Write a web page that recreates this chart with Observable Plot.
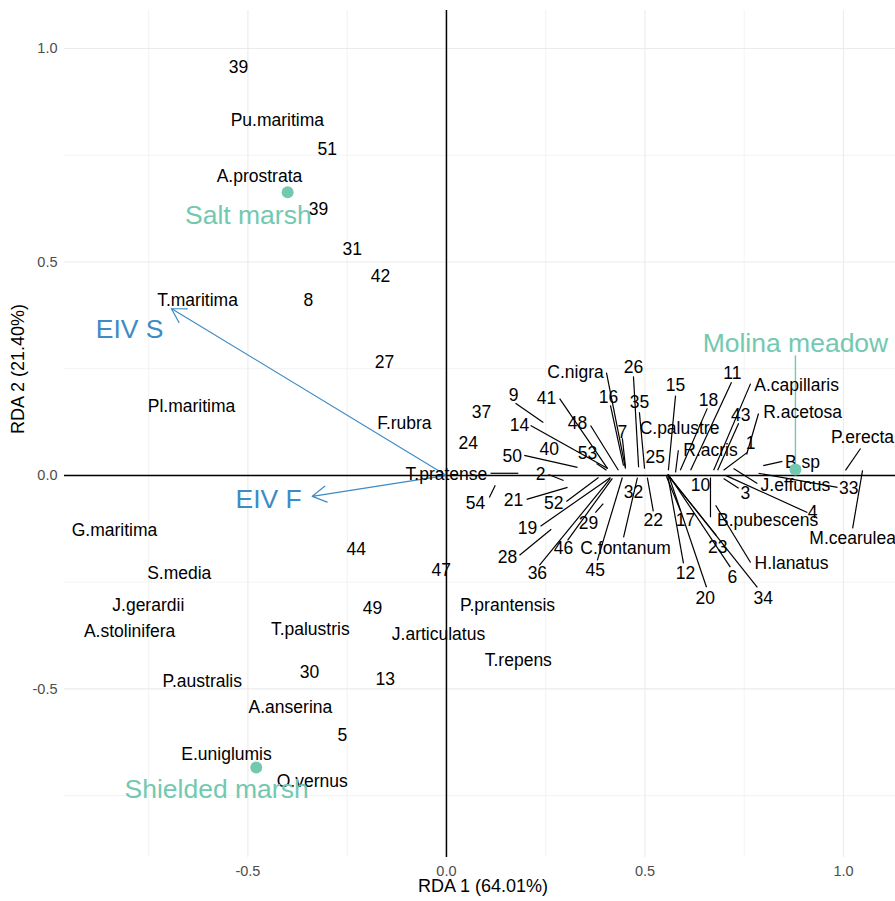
<!DOCTYPE html>
<html><head><meta charset="utf-8">
<script src="https://cdn.jsdelivr.net/npm/d3@7"></script>
<script src="https://cdn.jsdelivr.net/npm/@observablehq/plot@0.6"></script>
<style>
html,body{margin:0;padding:0;background:#fff;}
</style>
</head><body><div id="chart"></div>
<script>
// ---- axis ticks ----
const xMajor = [-0.5, 0, 0.5, 1.0];
const yMajor = [-0.5, 0, 0.5, 1.0];
const xMinor = [-0.75, -0.25, 0.25, 0.75];
const yMinor = [-0.75, -0.25, 0.25, 0.75];
const xTitle = "RDA 1 (64.01%)";
const yTitle = "RDA 2 (21.40%)";

// ---- labels without a connector ----
const plainNames = ["39","Pu.maritima","51","A.prostrata","39","31","42","T.maritima","8","27","Pl.maritima","F.rubra","37","24","G.maritima","44","S.media","47","J.gerardii","A.stolinifera","49","P.prantensis","T.palustris","J.articulatus","T.repens","30","13","P.australis","A.anserina","5","E.uniglumis","O.vernus","40","25","R.acris","10","32"];
const plainX = [-0.524,-0.426,-0.300,-0.471,-0.322,-0.237,-0.166,-0.627,-0.348,-0.156,-0.642,-0.106,0.088,0.055,-0.836,-0.227,-0.673,-0.013,-0.751,-0.798,-0.186,0.154,-0.343,-0.020,0.181,-0.345,-0.154,-0.615,-0.393,-0.262,-0.554,-0.338,0.259,0.526,0.665,0.640,0.471];
const plainY = [0.956,0.831,0.763,0.700,0.623,0.529,0.466,0.410,0.410,0.265,0.162,0.122,0.148,0.075,-0.129,-0.173,-0.230,-0.222,-0.304,-0.365,-0.311,-0.304,-0.361,-0.372,-0.433,-0.461,-0.478,-0.482,-0.543,-0.609,-0.653,-0.717,0.061,0.042,0.059,-0.023,-0.040];

// ---- repelled labels with connector (label, connector start, true point) ----
const repNames = ["T.pratense","C.nigra","26","9","41","16","35","48","7","14","50","53","2","15","18","11","A.capillaris","43","R.acetosa","C.palustre","1","B.sp","P.erecta","J.effucus","33","M.cearulea","3","4","B.pubescens","H.lanatus","34","22","17","12","20","23","6","C.fontanum","54","21","52","19","28","36","46","29","45"];
const repLabelX = [0.000,0.325,0.471,0.169,0.252,0.408,0.486,0.330,0.443,0.184,0.166,0.355,0.237,0.577,0.660,0.720,0.882,0.741,0.897,0.587,0.766,0.897,1.048,0.879,1.013,1.023,0.753,0.922,0.809,0.869,0.798,0.521,0.602,0.602,0.652,0.683,0.720,0.451,0.073,0.169,0.270,0.204,0.154,0.229,0.295,0.358,0.375];
const repLabelY = [0.002,0.241,0.253,0.187,0.180,0.183,0.171,0.122,0.101,0.117,0.044,0.052,0.002,0.211,0.176,0.239,0.211,0.141,0.148,0.110,0.075,0.030,0.089,-0.023,-0.030,-0.148,-0.042,-0.087,-0.105,-0.206,-0.288,-0.105,-0.105,-0.230,-0.288,-0.169,-0.239,-0.171,-0.066,-0.059,-0.066,-0.124,-0.192,-0.230,-0.171,-0.112,-0.222];
const repFromX = [0.111,0.403,0.471,0.174,0.285,0.413,0.486,0.363,0.443,0.212,0.196,0.378,0.257,0.577,0.657,0.718,0.766,0.736,0.786,0.584,0.758,0.846,1.043,0.783,0.985,1.023,0.736,0.909,0.665,0.766,0.783,0.521,0.589,0.597,0.655,0.680,0.715,0.446,0.108,0.202,0.302,0.237,0.184,0.234,0.305,0.375,0.380];
const repFromY = [0.005,0.241,0.232,0.169,0.180,0.164,0.148,0.117,0.087,0.117,0.047,0.028,0.002,0.187,0.157,0.218,0.215,0.122,0.145,0.059,0.054,0.033,0.063,-0.019,-0.028,-0.124,-0.030,-0.087,-0.098,-0.204,-0.262,-0.084,-0.082,-0.206,-0.262,-0.141,-0.215,-0.145,-0.052,-0.056,-0.061,-0.119,-0.187,-0.211,-0.152,-0.087,-0.199];
const repPointX = [0.181,0.451,0.484,0.244,0.406,0.446,0.499,0.433,0.451,0.406,0.330,0.403,0.295,0.559,0.589,0.615,0.673,0.683,0.756,0.577,0.698,0.798,1.005,0.723,0.786,1.048,0.698,0.703,0.665,0.678,0.557,0.506,0.554,0.557,0.559,0.557,0.559,0.481,0.123,0.305,0.383,0.413,0.264,0.413,0.418,0.395,0.443];
const repPointY = [0.005,0.016,0.019,0.124,0.016,0.023,0.016,0.012,0.019,0.016,0.019,0.012,-0.012,0.012,0.012,0.012,0.012,0.012,0.049,0.007,0.012,0.023,0.012,0.016,0.005,0.012,-0.007,0.000,-0.005,-0.070,0.002,-0.005,-0.002,0.002,0.002,0.002,0.002,-0.005,-0.023,-0.028,-0.005,-0.005,-0.126,-0.007,-0.007,-0.066,-0.005];

// ---- group centroids ----
const groupNames = ["Salt marsh","Shielded marsh","Molina meadow"];
const groupX = [-0.400,-0.479,0.879];
const groupY = [0.663,-0.684,0.014];
const groupLabelX = [-0.499,-0.579,0.879];
const groupLabelY = [0.609,-0.735,0.309];
const groupLinkFromY = [null,null,0.281];
const groupLinkToY = [null,null,0.030];

// ---- environmental vectors ----
const envNames = ["EIV S","EIV F"];
const envX = [-0.693,-0.338];
const envY = [0.391,-0.049];
const envLabelX = [-0.798,-0.448];
const envLabelY = [0.342,-0.056];

// ---- tables ----
const plain = plainNames.map((t,i)=>({t, x:plainX[i], y:plainY[i]}));
const rep = repNames.map((t,i)=>({t, x:repLabelX[i], y:repLabelY[i], x1:repFromX[i], y1:repFromY[i], x2:repPointX[i], y2:repPointY[i]}));
const groups = groupNames.map((t,i)=>({t, x:groupX[i], y:groupY[i], lx:groupLabelX[i], ly:groupLabelY[i], y1:groupLinkFromY[i], y2:groupLinkToY[i]}));
const groupLinks = groups.filter(d=>d.y1!==null);
const env = envNames.map((t,i)=>({t, x:envX[i], y:envY[i], lx:envLabelX[i], ly:envLabelY[i]}));

const TEAL = "#72c9b0";
const BLUE = "#3d8bc4";
const FONT = "'Liberation Sans', Arial, sans-serif";
const fmt = d => d.toFixed(1);

const chart = Plot.plot({
  width: 895,
  height: 901,
  marginLeft: 64,
  marginRight: 0,
  marginTop: 10,
  marginBottom: 44,
  style: {fontFamily: FONT, background: "#fff"},
  x: {domain: [-0.962, 1.131]},
  y: {domain: [-0.895, 1.089]},
  marks: [
    Plot.ruleX(xMinor, {stroke: "#ebebeb", strokeWidth: 0.6}),
    Plot.ruleY(yMinor, {stroke: "#ebebeb", strokeWidth: 0.6}),
    Plot.ruleX(xMajor, {stroke: "#ebebeb", strokeWidth: 1.1}),
    Plot.ruleY(yMajor, {stroke: "#ebebeb", strokeWidth: 1.1}),
    Plot.axisX(xMajor, {tickSize: 0, tickPadding: 8, tickFormat: fmt, fontSize: 14.5, fill: "#4d4d4d", label: null}),
    Plot.axisY(yMajor, {tickSize: 0, tickPadding: 7, tickFormat: fmt, fontSize: 14.5, fill: "#4d4d4d", label: null}),
    Plot.ruleX([0], {stroke: "#000", strokeWidth: 1.5}),
    Plot.ruleY([0], {stroke: "#000", strokeWidth: 1.5}),
    Plot.link(rep, {x1: "x1", y1: "y1", x2: "x2", y2: "y2", stroke: "#000", strokeWidth: 1.2}),
    Plot.link(groupLinks, {x1: "lx", y1: "y1", x2: "x", y2: "y2", stroke: TEAL, strokeWidth: 1.4}),
    Plot.arrow(env, {x1: 0, y1: 0, x2: "x", y2: "y", stroke: BLUE, strokeWidth: 1.2, headLength: 20, headAngle: 60}),
    Plot.text(plain, {x: "x", y: "y", text: "t", fontSize: 17.5, fill: "#000"}),
    Plot.text(rep, {x: "x", y: "y", text: "t", fontSize: 17.5, fill: "#000"}),
    Plot.dot(groups, {x: "x", y: "y", r: 6, fill: TEAL}),
    Plot.text(groups, {x: "lx", y: "ly", text: "t", fontSize: 26.5, fill: TEAL}),
    Plot.text(env, {x: "lx", y: "ly", text: "t", fontSize: 26.5, fill: BLUE}),
    Plot.text([xTitle], {frameAnchor: "bottom", dx: 3, dy: 34, text: d => d, fontSize: 18, fill: "#000"}),
    Plot.text([yTitle], {frameAnchor: "left", dx: -46, rotate: -90, text: d => d, fontSize: 18, fill: "#000"})
  ]
});
document.getElementById("chart").appendChild(chart);
</script>
</body></html>
